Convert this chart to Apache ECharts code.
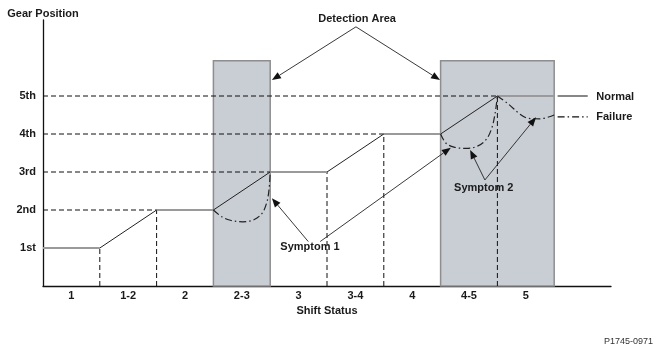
<!DOCTYPE html>
<html><head><meta charset="utf-8">
<script src="https://cdn.jsdelivr.net/npm/echarts@6/dist/echarts.min.js"></script>
<style>html,body{margin:0;padding:0;background:#fff}#c{width:662px;height:356px}</style>
</head><body><div id="c"></div>
<script>
// ---- data ----
const shiftStatus = ['1','1-2','2','2-3','3','3-4','4','4-5','5'];
const gearLabels = ['1st','2nd','3rd','4th','5th'];
// gear position at each shift-status boundary (x = 0..9)
const normalGear = [1,1,2,2,3,3,4,4,5,5];
const guideVerticalX = [1,2,5,6,8];
const detectionAreas = [[3,4],[7,9]];
const detectionTop = 5.93;
const failure23 = [[3,2],[3.15,1.82],[3.3,1.73],[3.52,1.69],[3.72,1.75],[3.86,1.92],[3.94,2.2],[3.98,2.55],[4,3]];
const failure45 = [[7,4],[7.1,3.75],[7.25,3.65],[7.45,3.62],[7.65,3.68],[7.8,3.85],[7.9,4.15],[7.96,4.55],[8,5]];
const failure5 = [[8,5],[8.2,4.78],[8.4,4.52],[8.55,4.41],[8.75,4.4],[9,4.5]];
const normalLegend = [[9.06,5],[9.59,5]];
const failureLegend = [[9.06,4.45],[9.59,4.45]];
const detectionArrows = [[[5.51,6.82],[4.03,5.42]],[[5.51,6.82],[6.99,5.42]]];
const symptom1Arrows = [[[4.67,1.17],[4.03,2.31]],[[4.88,1.17],[7.18,3.64]]];
const symptom2Arrows = [[[7.78,2.79],[7.52,3.58]],[[7.78,2.79],[8.68,4.44]]];
const textLabels = [
  {text:'Detection Area', at:[5.53,7.04], align:'center'},
  {text:'Symptom 1', at:[4.70,1.03], align:'center'},
  {text:'Symptom 2', at:[7.76,2.57], align:'center'},
  {text:'Normal', at:[9.74,4.98], align:'left'},
  {text:'Failure', at:[9.74,4.45], align:'left'}
];

const FONT = "'Liberation Sans', Arial, sans-serif";
const TXT = '#1a1a1a';
const dashed = [5,3];
const dashDot = [7,3,1.5,3];

const chart = echarts.init(document.getElementById('c'), null, {renderer:'canvas'});
const series = [];

// detection areas
series.push({
  type:'line', data:[], z:1, silent:true,
  markArea:{silent:true,
    itemStyle:{color:'#c9cdd4', borderColor:'#8e8e8e', borderWidth:1.5},
    data: detectionAreas.map(a => [{coord:[a[0],0]},{coord:[a[1],detectionTop]}])
  }
});
// guide dashed lines
for (let g = 2; g <= 5; g++) {
  const xe = normalGear.indexOf(g);
  series.push({type:'line', z:3, symbol:'none', silent:true, animation:false,
    data:[[0,g],[xe,g]], lineStyle:{color:'#111', width:1, type:dashed}});
}
guideVerticalX.forEach(x => {
  series.push({type:'line', z:3, symbol:'none', silent:true, animation:false,
    data:[[x,0],[x,normalGear[x]]], lineStyle:{color:'#111', width:1, type:dashed}});
});
// normal line: flat (gray) and rising (black) segments
for (let i = 0; i < normalGear.length - 1; i++) {
  const flat = normalGear[i] === normalGear[i+1];
  series.push({type:'line', z: flat ? 4 : 5, symbol:'none', silent:true, animation:false,
    data:[[i,normalGear[i]],[i+1,normalGear[i+1]]],
    lineStyle: flat ? {color:'#9a9a9a', width:2} : {color:'#222', width:1}});
}
// failure curves
[failure23, failure45, failure5].forEach(d => {
  series.push({type:'line', z:6, symbol:'none', silent:true, animation:false, smooth:0.35,
    data:d, lineStyle:{color:'#222', width:1.2, type:dashDot}});
});
// legend samples
series.push({type:'line', z:6, symbol:'none', silent:true, animation:false,
  data:normalLegend, lineStyle:{color:'#111', width:1.2}});
series.push({type:'line', z:6, symbol:'none', silent:true, animation:false,
  data:failureLegend, lineStyle:{color:'#111', width:1.2, type:dashDot}});

chart.setOption({
  animation:false,
  grid:{left:43, right:51, top:20, bottom:70, containLabel:false},
  xAxis:{type:'value', min:0, max:10, interval:0.5,
    axisLine:{show:true, onZero:false, lineStyle:{color:'#111', width:1.3}},
    axisTick:{show:false}, splitLine:{show:false},
    axisLabel:{margin:4, color:TXT, fontFamily:FONT, fontWeight:'bold', fontSize:11,
      showMinLabel:true, showMaxLabel:true,
      formatter: v => { const i = Math.floor(v); return (Math.abs(v - i - 0.5) < 1e-6 && i < shiftStatus.length) ? shiftStatus[i] : ''; }},
    name:'Shift Status', nameLocation:'middle', nameGap:19,
    nameTextStyle:{color:TXT, fontFamily:FONT, fontWeight:'bold', fontSize:11}
  },
  yAxis:{type:'value', min:0, max:7, interval:1,
    axisLine:{show:true, lineStyle:{color:'#111', width:1.3}},
    axisTick:{show:false}, splitLine:{show:false},
    axisLabel:{margin:7, color:TXT, fontFamily:FONT, fontWeight:'bold', fontSize:11,
      formatter: v => (v >= 1 && v <= gearLabels.length) ? gearLabels[v-1] : ''},
    name:'Gear Position', nameLocation:'end', nameGap:1,
    nameTextStyle:{color:TXT, fontFamily:FONT, fontWeight:'bold', fontSize:11}
  },
  series: series
});

function px(p){ return chart.convertToPixel({gridIndex:0}, p); }
const graphics = [];
function arrow(from, to){
  const a = px(from), b = px(to);
  const dx = b[0]-a[0], dy = b[1]-a[1], L = Math.hypot(dx,dy);
  const ux = dx/L, uy = dy/L, hl = 9, hw = 3.6;
  const bx = b[0]-ux*hl, by = b[1]-uy*hl;
  graphics.push({type:'line', silent:true, z:100,
    shape:{x1:a[0], y1:a[1], x2:bx, y2:by}, style:{stroke:'#222', lineWidth:0.9}});
  graphics.push({type:'polygon', silent:true, z:100,
    shape:{points:[[b[0],b[1]],[bx-uy*hw, by+ux*hw],[bx+uy*hw, by-ux*hw]]},
    style:{fill:'#111'}});
}
detectionArrows.forEach(s => arrow(s[0], s[1]));
symptom1Arrows.forEach(s => arrow(s[0], s[1]));
symptom2Arrows.forEach(s => arrow(s[0], s[1]));
textLabels.forEach(t => {
  const p = px(t.at);
  graphics.push({type:'text', silent:true, z:101, x:p[0], y:p[1],
    style:{text:t.text, fill:TXT, font:"bold 11px " + FONT, textAlign:t.align, textVerticalAlign:'middle'}});
});
graphics.push({type:'text', silent:true, z:101, right:9, top:337,
  style:{text:'P1745-0971', fill:'#333', font:"9px " + FONT}});
chart.setOption({graphic: graphics});
</script>
</body></html>
